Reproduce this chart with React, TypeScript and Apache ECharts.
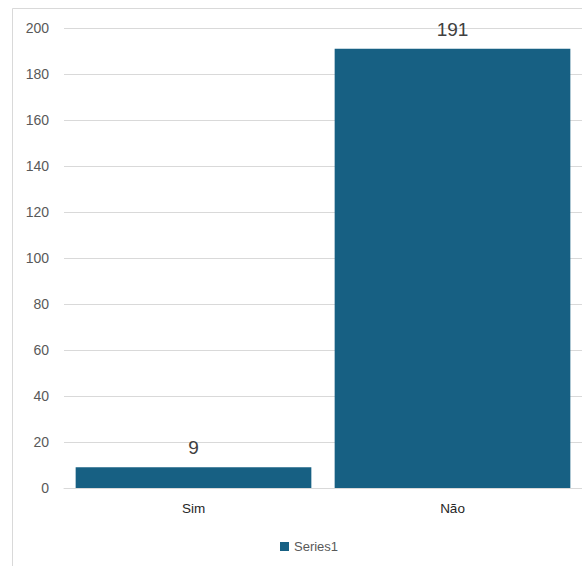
import React, { useEffect, useRef } from "react";
import * as echarts from "echarts";

const categories = ["Sim", "Não"];
const values = [9, 191];
const seriesName = "Series1";

export default function App() {
  const ref = useRef<HTMLDivElement>(null);
  useEffect(() => {
    if (!ref.current) return;
    const chart = echarts.init(ref.current, undefined, { renderer: "svg" });
    chart.setOption({
      animation: false,
      graphic: [
        {
          type: "rect",
          shape: { x: 12.5, y: 8.5, width: 620, height: 620 },
          style: { fill: "none", stroke: "#d9d9d9", lineWidth: 1 },
          silent: true,
          z: -10,
        },
      ],
      grid: { left: 64, right: 0, top: 28, bottom: 78 },
      legend: {
        data: [seriesName],
        left: 275,
        top: 535,
        icon: "rect",
        itemWidth: 9,
        itemHeight: 9,
        itemGap: 4,
        textStyle: { fontSize: 13, color: "#595959", fontFamily: "Liberation Sans" },
      },
      xAxis: {
        type: "category",
        data: categories,
        axisLine: { show: true, lineStyle: { color: "#d9d9d9", width: 1 } },
        axisTick: { show: false },
        axisLabel: { fontSize: 13.5, color: "#262626", margin: 13, fontFamily: "Liberation Sans" },
      },
      yAxis: {
        type: "value",
        min: 0,
        max: 200,
        interval: 20,
        axisLine: { show: false },
        axisTick: { show: false },
        splitLine: { lineStyle: { color: "#d9d9d9", width: 1 } },
        axisLabel: { fontSize: 14, color: "#595959", margin: 15, fontFamily: "Liberation Sans" },
      },
      series: [
        {
          name: seriesName,
          type: "bar",
          data: values,
          barCategoryGap: "9%",
          itemStyle: { color: "#176083" },
          label: {
            show: true,
            position: "top",
            distance: 10,
            fontSize: 19,
            color: "#404040",
            fontFamily: "Liberation Sans",
          },
        },
      ],
    });
    return () => chart.dispose();
  }, []);
  return (
    <div
      ref={ref}
      style={{ position: "fixed", left: 0, top: 0, width: 582, height: 566, background: "#fff" }}
    />
  );
}
